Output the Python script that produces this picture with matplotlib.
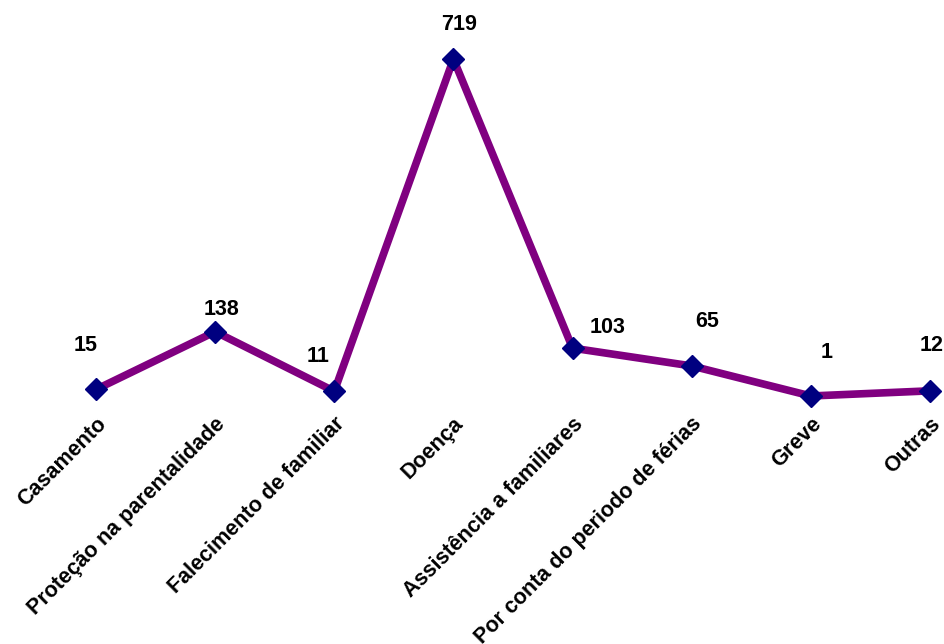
import matplotlib.pyplot as plt
import numpy as np

categorias = ['Casamento', 'Proteção na parentalidade', 'Falecimento de familiar',
              'Doença', 'Assistência a familiares', 'Por conta do periodo de férias',
              'Greve', 'Outras']
valores = [15, 138, 11, 719, 103, 65, 1, 12]

# offsets of the value labels (pixels), as placed in the original
label_dx = [-10, 6, -16, 6, 35, 15, 16, 2]
label_dy = [44, 22, 35, 34, 21, 44, 43, 45]

plt.rcParams['font.family'] = ['Liberation Sans', 'DejaVu Sans']

fig = plt.figure(figsize=(9.45, 6.44), dpi=100)
ax = fig.add_axes([0, 0, 1, 1])

x = np.arange(len(valores))
ax.plot(x, valores, color='#800080', linewidth=5.5, marker='D', markersize=11,
        markerfacecolor='#000080', markeredgecolor='#000080', zorder=3)

for i, v in enumerate(valores):
    ax.annotate(str(v), (x[i], v), xytext=(label_dx[i], label_dy[i]),
                textcoords='offset pixels', ha='center', va='center',
                fontsize=15.5, fontweight='bold', color='black')

# category labels, rotated like the original axis
for i, c in enumerate(categorias):
    ax.text(x[i] + 0.06, -52, c, rotation=45, rotation_mode='anchor',
            ha='right', va='center', fontsize=15.5, fontweight='bold')

ax.set_xlim(-0.806, 7.126)
ax.set_ylim(-527.4, 844.7)
ax.axis('off')

plt.savefig('out.png', dpi=100)
plt.close()
